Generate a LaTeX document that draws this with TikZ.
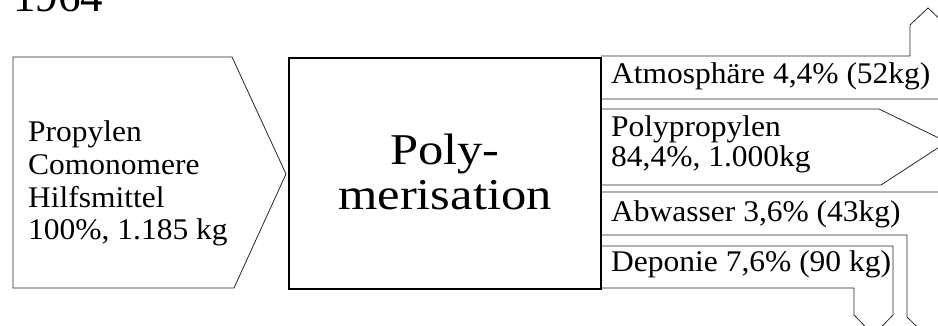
\documentclass[tikz,border=0pt]{standalone}
\usepackage{fontspec}
\setmainfont{Liberation Serif}
\newfontfamily\txtfont[FakeStretch=1.05]{Liberation Serif}
\newfontfamily\bigfont[FakeStretch=1.15]{Liberation Serif}
\begin{document}
\begin{tikzpicture}[x=1pt,y=-1pt,
  flow/.style={draw=black!85, line width=0.8pt, line join=miter},
  procbox/.style={draw=black, line width=1.8pt},
  lbl/.style={anchor=base west, inner sep=0pt, align=left, font=\txtfont\fontsize{30}{30}\selectfont},
  ]
\useasboundingbox (0,0) rectangle (938,326);
% title (cut off at the top)
\node[anchor=base west, inner sep=0pt, font=\fontsize{45}{45}\selectfont] (year) at (13,12) {1964};
% input arrow
\draw[flow] (13,57) -- (232,57) -- (286,174) -- (234,288) -- (13,288) -- cycle;
% output bands
\draw[flow] (601,56) -- (910,56) -- (910,25) -- (928,8) -- (946,25) -- (946,99) -- (601,99);
\draw[flow] (601,109) -- (879,109) -- (947,142) -- (881,185) -- (601,185);
\draw[flow] (601,192) -- (952,192) -- (952,317) -- (929.5,339) -- (907,317) -- (907,235) -- (601,235);
\draw[flow] (601,246) -- (893,246) -- (893,315) -- (873.5,335) -- (854,315) -- (854,288) -- (601,288);
% process box
\draw[procbox] (289,58) rectangle (601,289);
\node[inner sep=0pt, align=center, anchor=base, font=\bigfont\fontsize{44}{45}\selectfont] (poly) at (445,210) {Poly-\\merisation};
% labels
\node[lbl, font=\txtfont\fontsize{30}{32.7}\selectfont] (input) at (28,240) {Propylen\\Comonomere\\Hilfsmittel\\100\%, 1.185 kg};
\node[lbl] (atm) at (611,84) {Atmosphäre 4,4\% (52kg)};
\node[lbl] (pp) at (611,167) {Polypropylen\\84,4\%, 1.000kg};
\node[lbl] (abw) at (611,222) {Abwasser 3,6\% (43kg)};
\node[lbl] (dep) at (611,272) {Deponie 7,6\% (90 kg)};
\end{tikzpicture}
\end{document}
